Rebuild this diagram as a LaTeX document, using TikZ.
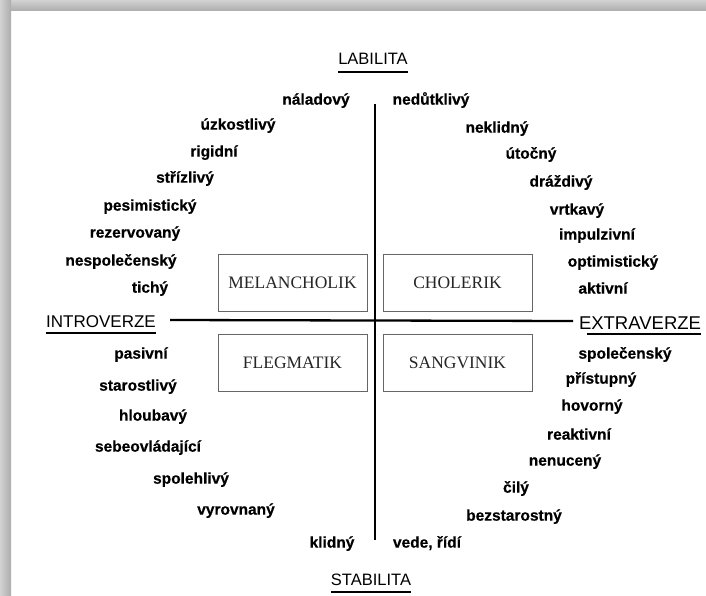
\documentclass[tikz,border=0pt]{standalone}
\usepackage{fontspec}
\setmainfont{Liberation Sans}
\newfontfamily\boxfont{Liberation Serif}
\newfontfamily\wordfont[FakeBold=0.5]{Liberation Sans Bold}
\begin{document}
\begin{tikzpicture}[x=1pt,y=-1pt,
  word/.style={font=\wordfont\fontsize{15.5}{18}\selectfont, inner sep=0pt, anchor=mid},
  axislabel/.style={font=\fontsize{16.5}{19}\selectfont, inner sep=0pt},
  tbox/.style={draw=black!60, line width=0.9pt, minimum width=149pt, minimum height=57pt,
    font=\boxfont\fontsize{17.5}{20}\selectfont, text=black!85, inner sep=0pt},
  axisline/.style={line width=2.3pt, black},
  uline/.style={line width=1.9pt, black}]
\useasboundingbox (0,0) rectangle (706,596);
\fill[white] (0,0) rectangle (706,596);
% shadow frame
\shade[top color=gray!35, bottom color=gray!65] (0,0) rectangle (706,11);
\shade[left color=gray!35, right color=gray!65] (0,0) rectangle (11,596);

% axes
\coordinate (vtop) at (375,104);
\coordinate (vbot) at (375,540);
\coordinate (hleft) at (170,320);
\coordinate (hright) at (573,321);
\draw[axisline] (vtop) -- (vbot);
\draw[axisline] (hleft) -- (hright);

% boxes
\node[tbox] (mel) at (292.5,282.5) {MELANCHOLIK};
\node[tbox] (cho) at (457.5,283) {CHOLERIK};
\node[tbox] (fle) at (292.5,363) {FLEGMATIK};
\node[tbox] (san) at (457.5,363) {SANGVINIK};

% axis labels
\node[axislabel] (lab) at (373,59) {LABILITA};
\draw[uline] ([yshift=-7pt]lab.south west) -- ([yshift=-7pt]lab.south east);
\node[axislabel] (sta) at (371,580) {STABILITA};
\draw[uline] ([yshift=-6pt]sta.south west) -- ([yshift=-6pt]sta.south east);
\node[axislabel, font=\fontsize{17}{20}\selectfont] (intro) at (101,322) {INTROVERZE};
\draw[uline] ([yshift=-4.5pt]intro.south west) -- ([yshift=-4.5pt]intro.south east);
\node[axislabel, font=\fontsize{18.5}{21}\selectfont] (extra) at (640,323) {EXTRAVERZE};
\draw[uline] ([yshift=-4.5pt,xshift=8pt]extra.south west) -- ([yshift=-4.5pt]extra.south east);

% upper left
\node[word] (w1) at (316,102) {náladový};
\node[word] (w2) at (238,127) {úzkostlivý};
\node[word] (w3) at (214,154) {rigidní};
\node[word] (w4) at (185,180) {střízlivý};
\node[word] (w5) at (150,208) {pesimistický};
\node[word] (w6) at (135,235) {rezervovaný};
\node[word] (w7) at (121,263) {nespolečenský};
\node[word] (w8) at (150,290) {tichý};
% upper right
\node[word] (r1) at (431,102) {nedůtklivý};
\node[word] (r2) at (497,130) {neklidný};
\node[word] (r3) at (531,156) {útočný};
\node[word] (r4) at (561,184) {dráždivý};
\node[word] (r5) at (577,212) {vrtkavý};
\node[word] (r6) at (597,237) {impulzivní};
\node[word] (r7) at (613,264) {optimistický};
\node[word] (r8) at (603,291) {aktivní};
% lower left
\node[word] (l1) at (141,356) {pasivní};
\node[word] (l2) at (138,388) {starostlivý};
\node[word] (l3) at (153,418) {hloubavý};
\node[word] (l4) at (148,449) {sebeovládající};
\node[word] (l5) at (191,481) {spolehlivý};
\node[word] (l6) at (236,512) {vyrovnaný};
\node[word] (l7) at (332,545) {klidný};
% lower right
\node[word] (s1) at (625,356) {společenský};
\node[word] (s2) at (601,381) {přístupný};
\node[word] (s3) at (592,408) {hovorný};
\node[word] (s4) at (579,437) {reaktivní};
\node[word] (s5) at (565,463) {nenucený};
\node[word] (s6) at (516,490) {čilý};
\node[word] (s7) at (514,518) {bezstarostný};
\node[word] (s8) at (427,545) {vede, řídí};
\end{tikzpicture}
\end{document}
